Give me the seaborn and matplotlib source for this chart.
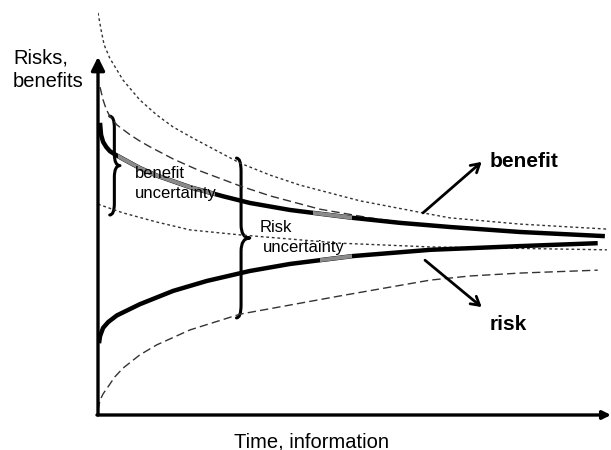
import matplotlib
matplotlib.use('Agg')
import matplotlib.pyplot as plt
import seaborn as sns
from matplotlib.path import Path
from matplotlib.patches import PathPatch, Rectangle

# ------------------------------------------------------------
# values (time on x, level on y)
# ------------------------------------------------------------
benefit_t = [0.04, 0.06, 0.10, 0.16, 0.23, 0.33, 0.49, 0.82, 1.15, 1.80, 2.45, 2.97, 3.76, 4.99, 5.91, 6.89, 8.26, 9.92]
benefit_v = [7.04, 6.75, 6.58, 6.46, 6.36, 6.28, 6.17, 5.95, 5.77, 5.49, 5.27, 5.11, 4.94, 4.75, 4.63, 4.53, 4.41, 4.31]

risk_t = [0.02, 0.04, 0.10, 0.20, 0.37, 0.82, 1.47, 2.13, 2.97, 3.76, 4.99, 6.50, 8.26, 9.78]
risk_v = [1.73, 1.90, 2.10, 2.24, 2.40, 2.67, 2.99, 3.23, 3.47, 3.64, 3.83, 3.98, 4.07, 4.14]

# benefit uncertainty band
benefit_hi_t = [0.04, 0.10, 0.16, 0.23, 0.37, 0.63, 0.82, 1.02, 1.47, 2.00, 2.78, 3.37, 4.34, 5.32, 6.50]
benefit_hi_v = [7.90, 7.59, 7.37, 7.20, 6.99, 6.75, 6.60, 6.46, 6.17, 5.88, 5.52, 5.28, 4.96, 4.75, 4.55]
benefit_lo_t = [0.0, 0.49, 1.15, 1.80, 2.78, 4.74, 6.50, 9.96]
benefit_lo_v = [5.08, 4.87, 4.65, 4.46, 4.34, 4.14, 4.05, 3.98]

# risk uncertainty band
risk_hi_t = [0.0, 0.06, 0.12, 0.23, 0.49, 0.82, 1.15, 1.47, 1.86, 2.78, 3.37, 3.95, 5.13, 6.36, 6.89, 8.26, 9.96]
risk_hi_v = [9.69, 9.28, 8.92, 8.60, 8.07, 7.59, 7.23, 6.94, 6.67, 6.07, 5.78, 5.54, 5.16, 4.87, 4.75, 4.60, 4.48]
risk_lo_t = [0.0, 0.04, 0.10, 0.18, 0.33, 0.49, 0.82, 1.15, 1.80, 2.78, 3.76, 4.74, 5.71, 6.50, 7.28, 8.26, 9.78]
risk_lo_v = [0.12, 0.36, 0.51, 0.65, 0.92, 1.13, 1.45, 1.69, 2.05, 2.43, 2.65, 2.87, 3.08, 3.25, 3.35, 3.42, 3.49]

# ------------------------------------------------------------
sns.set_style('white')
plt.rcParams['font.family'] = ['Liberation Sans', 'DejaVu Sans']
plt.rcParams['text.color'] = 'black'

fig = plt.figure(figsize=(6.11, 4.5), dpi=100)
ax = fig.add_axes([98 / 611, 35 / 450, 513 / 611, 415 / 450])
ax.set_xlim(0, 10.04)
ax.set_ylim(0, 10)
ax.axis('off')

dotted = (0, (2, 2))
dashed = (0, (6, 3))
for t, v, ls in [(risk_hi_t, risk_hi_v, dotted), (benefit_lo_t, benefit_lo_v, dotted),
                 (benefit_hi_t, benefit_hi_v, dashed), (risk_lo_t, risk_lo_v, dashed)]:
    sns.lineplot(x=t, y=v, ax=ax, color='#333333', lw=1.0, linestyle=ls,
                 sort=False, estimator=None)

for t, v in [(benefit_t, benefit_v), (risk_t, risk_v)]:
    sns.lineplot(x=t, y=v, ax=ax, color='black', lw=3.2, sort=False, estimator=None,
                 solid_joinstyle='round', solid_capstyle='butt')


# lighter grey stretches along the main curves
def grey_part(t, v, x0, x1):
    n = len(ax.lines)
    sns.lineplot(x=t, y=v, ax=ax, color='#8a8a8a', lw=2.8, sort=False, estimator=None,
                 solid_joinstyle='round')
    ax.lines[n].set_clip_path(Rectangle((x0, -1), x1 - x0, 12, transform=ax.transData))


grey_part(benefit_t, benefit_v, 0.40, 2.29)
grey_part(benefit_t, benefit_v, 4.21, 4.97)
grey_part(risk_t, risk_v, 4.34, 4.97)


# curly braces
def brace(xs, top, bottom, tip_x, hook=0.09, d=0.28):
    mid = (top + bottom) / 2
    verts = [(xs - hook, top), (xs, top), (xs, top - d), (xs, mid + d),
             (xs, mid), (tip_x, mid), (xs, mid), (xs, mid - d), (xs, bottom + d),
             (xs, bottom), (xs - hook, bottom)]
    codes = [Path.MOVETO, Path.CURVE3, Path.CURVE3, Path.LINETO,
             Path.CURVE3, Path.CURVE3, Path.CURVE3, Path.CURVE3, Path.LINETO,
             Path.CURVE3, Path.CURVE3]
    ax.add_patch(PathPatch(Path(verts, codes), fill=False, lw=2.2, color='black',
                           capstyle='round', joinstyle='round'))


brace(0.32, 7.20, 4.82, 0.43)
brace(2.80, 6.19, 2.34, 2.97, d=0.32)

# axes arrows
ax.annotate('', xy=(0, 8.63), xytext=(0, 0), annotation_clip=False,
            arrowprops=dict(arrowstyle='-|>', lw=2.4, color='black', mutation_scale=20,
                            shrinkA=0, shrinkB=0))
ax.annotate('', xy=(10.04, 0), xytext=(-0.02, 0), annotation_clip=False,
            arrowprops=dict(arrowstyle='-|>', lw=2.4, color='black', mutation_scale=12,
                            shrinkA=0, shrinkB=0))

# pointer arrows
for tail, head in [((6.36, 4.87), (7.51, 6.10)), ((6.40, 3.73), (7.51, 2.60))]:
    ax.annotate('', xy=head, xytext=tail,
                arrowprops=dict(arrowstyle='->,head_length=0.6,head_width=0.35', lw=2.0,
                                color='black', shrinkA=0, shrinkB=0))

# labels
ax.text(7.67, 5.98, 'benefit', fontsize=15, fontweight='bold', va='baseline')
ax.text(7.67, 2.05, 'risk', fontsize=15, fontweight='bold', va='baseline')
ax.text(0.72, 5.71, 'benefit', fontsize=12, va='baseline')
ax.text(0.72, 5.23, 'uncertainty', fontsize=12, va='baseline')
ax.text(3.17, 4.41, 'Risk', fontsize=12, va='baseline')
ax.text(3.23, 3.93, 'uncertainty', fontsize=12, va='baseline')

fig.text(13 / 611, 1 - 63 / 450, 'Risks,', fontsize=14.5, va='baseline')
fig.text(13 / 611, 1 - 87 / 450, 'benefits', fontsize=14.5, va='baseline')
fig.text(311 / 611, 1 - 447 / 450, 'Time, information', fontsize=14.5, va='baseline', ha='center')

fig.savefig('out.png', dpi=100)
